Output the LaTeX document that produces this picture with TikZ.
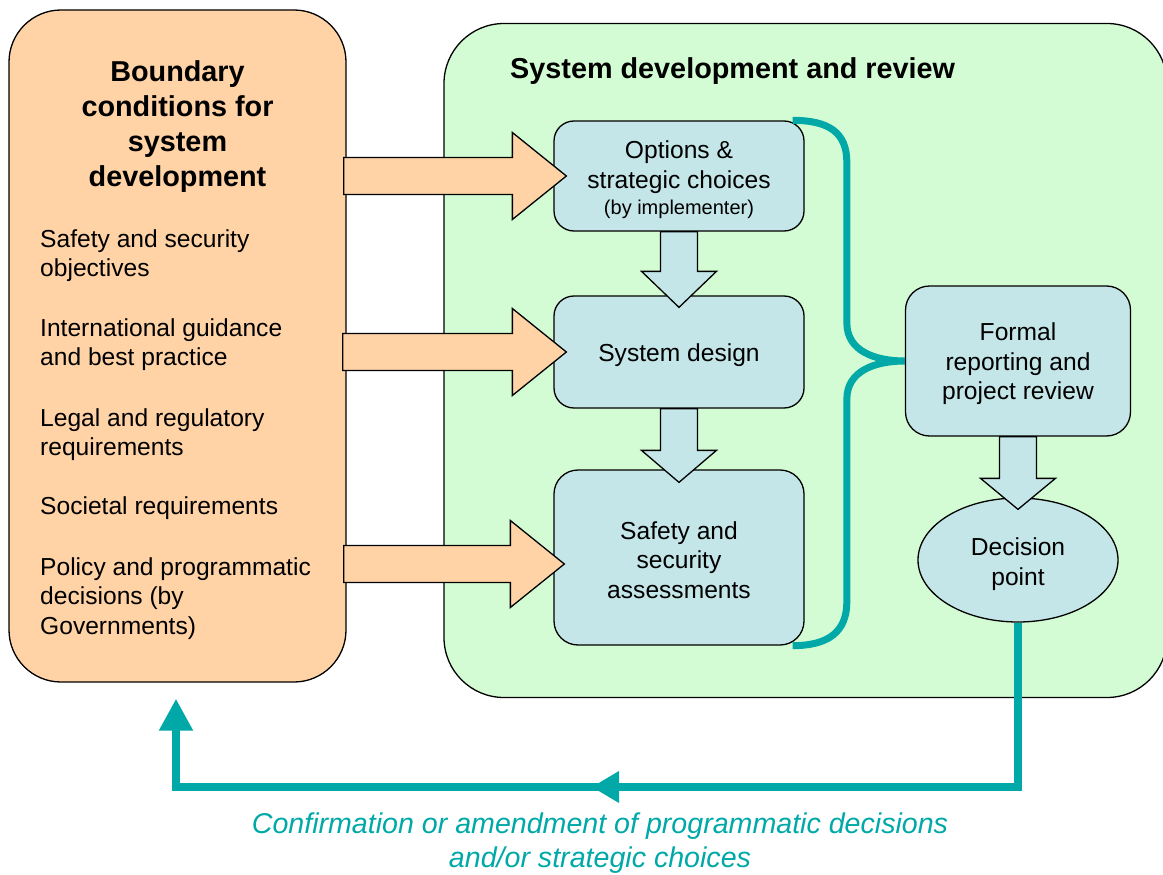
\documentclass[tikz,border=0pt]{standalone}
\usepackage{fontspec}
\setmainfont{Liberation Sans}
\usetikzlibrary{calc,shapes.geometric,arrows.meta}

\definecolor{peach}{HTML}{FFD3A5}
\definecolor{mint}{HTML}{D4FCD4}
\definecolor{paleblue}{HTML}{C4E6E8}
\definecolor{tealline}{HTML}{00A8A8}

% block arrow pointing right: #1 start of shaft, #2 tip
\newcommand{\rightblock}[2]{%
  \draw[orangearrow] ($(#1)+(0,-18.5)$) -- ($(#2)+(-54,-18.5)$) -- ($(#2)+(-54,-43.5)$)
    -- (#2) -- ($(#2)+(-54,43.5)$) -- ($(#2)+(-54,18.5)$) -- ($(#1)+(0,18.5)$) -- cycle;}
% block arrow pointing down: #1 start of shaft, #2 tip, #3 head length
\newcommand{\downblock}[3]{%
  \draw[bluearrow] ($(#1)+(-18.5,0)$) -- ($(#2)+(-18.5,-#3)$) -- ($(#2)+(-37.5,-#3)$)
    -- (#2) -- ($(#2)+(37.5,-#3)$) -- ($(#2)+(18.5,-#3)$) -- ($(#1)+(18.5,0)$) -- cycle;}

\begin{document}
\begin{tikzpicture}[x=1pt,y=-1pt,
  bodyfont/.style={font=\fontsize{24.6}{29.5}\selectfont},
  titlefont/.style={font=\bfseries\fontsize{28.8}{35}\selectfont},
  panel/.style={draw=black, line width=1.3pt, rounded corners=#1, inner sep=0pt},
  proc/.style={draw=black, fill=paleblue, line width=1.3pt, rounded corners=20pt,
    inner sep=0pt},
  proctext/.style={align=center, inner sep=0pt, bodyfont},
  item/.style={anchor=west, align=left, inner sep=0pt, bodyfont},
  orangearrow/.style={draw=black, fill=peach, line width=1.3pt, line join=miter},
  bluearrow/.style={draw=black, fill=paleblue, line width=1.3pt, line join=miter},
  brace/.style={draw=tealline, line width=7pt},
  feedback/.style={draw=tealline, line width=8pt},
  caption/.style={text=tealline, align=center, inner sep=0pt,
    font=\itshape\fontsize{28.6}{34}\selectfont}]

\useasboundingbox (0,0) rectangle (1163,875);

% system development panel (runs past the right edge)
\begin{scope}
  \clip (0,0) rectangle (1163,875);
  \node[panel=60pt, fill=mint, minimum width=723, minimum height=674] (sys) at (805.5,360.5) {};
\end{scope}
\node[titlefont, anchor=west, inner sep=0pt] (syst) at (510,71) {System development and review};

% boundary conditions panel
\node[panel=52pt, fill=peach, minimum width=337, minimum height=672] (bc) at (177.5,346) {};
\node[titlefont, align=center, inner sep=0pt] (bct) at (177.5,126.5)
  {Boundary\\conditions for\\system\\development};
\node[item] (i1) at (40,255.5) {Safety and security\\objectives};
\node[item] (i2) at (40,344.5) {International guidance\\and best practice};
\node[item] (i3) at (40,434.5) {Legal and regulatory\\requirements};
\node[item] (i4) at (40,508) {Societal requirements};
\node[item] (i5) at (40,598.5) {Policy and programmatic\\decisions (by\\Governments)};

% process boxes
\node[proc, minimum width=250, minimum height=110] (oc) at (679,176) {};
\node[proc, minimum width=250, minimum height=112] (sd) at (679,352) {};
\node[proc, rounded corners=24pt, minimum width=250, minimum height=175] (sa) at (679,557.5) {};
\node[proc, rounded corners=24pt, minimum width=225, minimum height=150] (fr) at (1018,361) {};
\node[ellipse, draw=black, fill=paleblue, line width=1.3pt, inner sep=0pt,
  minimum width=200, minimum height=124] (dp) at (1018,560) {};

\node[proctext] (oct) at ($(oc.center)+(0,4)$)
  {Options \&\\strategic choices\\[-3pt]{\fontsize{20}{24}\selectfont(by implementer)}};
\node[proctext] (sdt) at ($(sd.center)+(0,3)$) {System design};
\node[proctext] (sat) at ($(sa.center)+(0,2.5)$) {Safety and\\security\\assessments};
\node[proctext] (frt) at ($(fr.center)+(0,3)$) {Formal\\reporting and\\project review};
\node[proctext] (dpt) at ($(dp.center)+(0,4)$) {Decision\\point};

% inputs from the boundary conditions
\path ($(oc.west)+(13,0)$) coordinate (t1) ($(sd.west)+(13,0)$) coordinate (t2)
      ($(sa.west)+(11,6.5)$) coordinate (t3);
\path ($(bc.east |- t1)+(-3,0)$) coordinate (s1) ($(bc.east |- t2)+(-4,0)$) coordinate (s2)
      ($(bc.east |- t3)+(-3,0)$) coordinate (s3);
\rightblock{s1}{t1}
\rightblock{s2}{t2}
\rightblock{s3}{t3}

% flow between the boxes
\path ($(sd.north)+(0,12)$) coordinate (d1) ($(sa.north)+(0,13)$) coordinate (d2)
      ($(dp.north)+(0,12)$) coordinate (d3);
\downblock{oc.south}{d1}{36}
\downblock{sd.south}{d2}{32}
\downblock{fr.south}{d3}{31}

% brace gathering the three boxes into the review
\coordinate (btop) at ($(oc.north east)+(-12,0)$);
\coordinate (bbot) at ($(sa.south east)+(-12,0)$);
\coordinate (btip) at (fr.west);
\draw[brace] (btop) .. controls +(36,0) and +(0,-30) .. ($(btop -| btip)+(-58,42)$)
  -- ($(btip)+(-58,-38)$) .. controls +(0,28) and +(-30,0) .. (btip)
  .. controls +(-30,0) and +(0,-28) .. ($(btip)+(-58,38)$)
  -- ($(bbot -| btip)+(-58,-44)$) .. controls +(0,30) and +(36,0) .. (bbot);

% feedback loop to the boundary conditions
\coordinate (fbtip) at ($(bc.south)+(-1.5,16)$);
\coordinate (fbmid) at (592,787);
\draw[feedback, -{Triangle[length=32pt,width=32pt]}] (dp.south) |- (fbmid) -| (fbtip);
\fill[tealline] (fbmid) -- ++(27,-16) -- ++(0,32) -- cycle;
\node[caption] (cap) at (600,843)
  {Confirmation or amendment of programmatic decisions\\and/or strategic choices};

\end{tikzpicture}
\end{document}
